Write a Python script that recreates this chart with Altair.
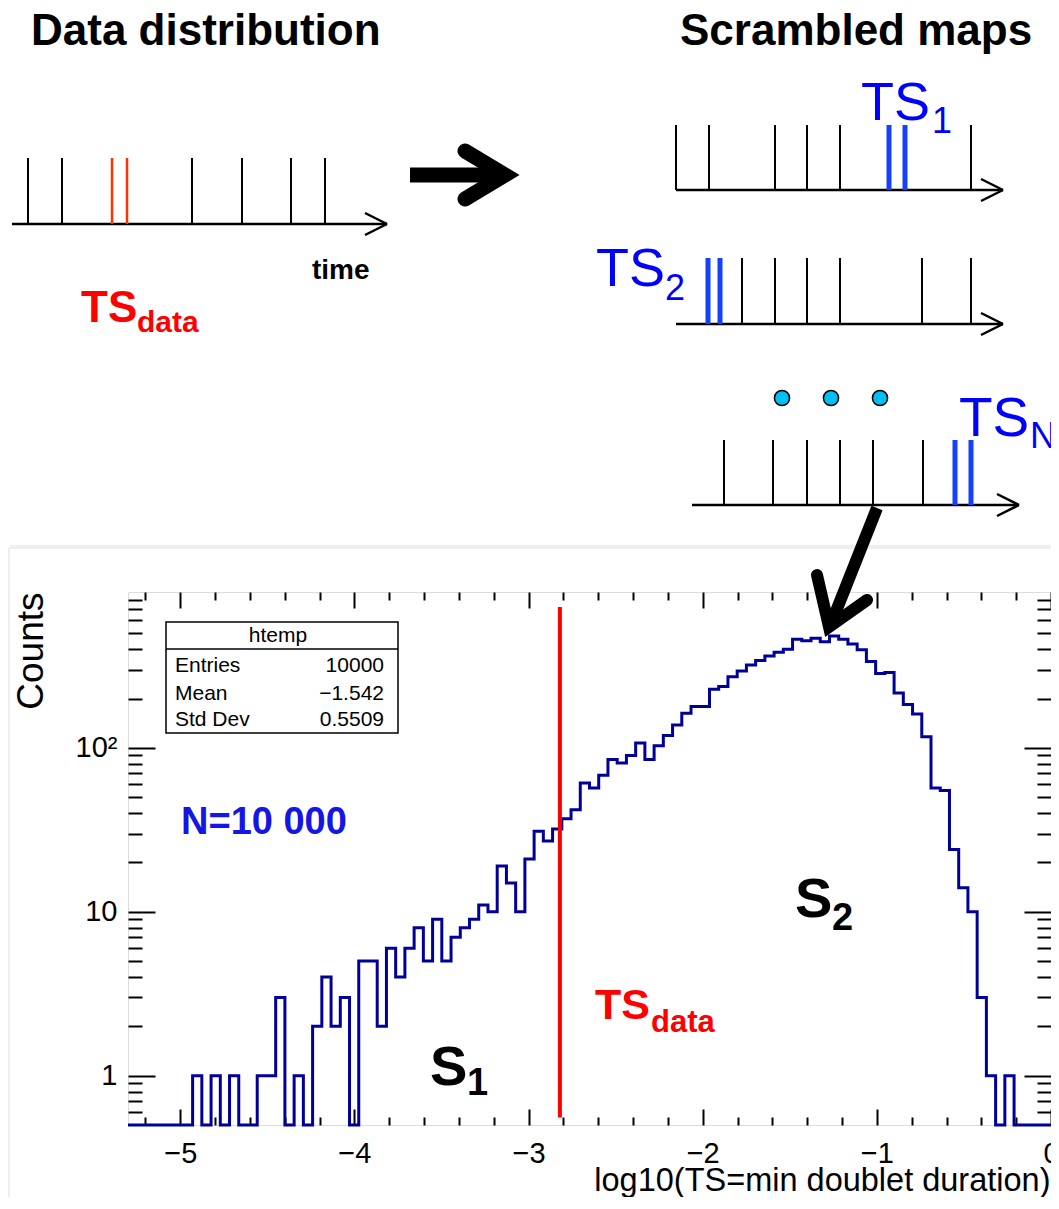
import altair as alt
import pandas as pd

# ------------------------------------------------------------------ histogram data
X_MIN, X_MAX, N_BINS = -5.30, 0.0, 100
COUNTS = [0, 0, 0, 0, 0, 0, 0, 1, 0, 1,
          0, 1, 0, 0, 1, 1, 3, 0, 1, 0,
          2, 4, 2, 3, 0, 5, 5, 2, 6, 4,
          6, 8, 5, 9, 5, 7, 8, 9, 11, 10,
          19, 15, 10, 21, 31, 27, 32, 37, 42, 61,
          57, 68, 85, 81, 90, 107, 85, 103, 119, 138,
          163, 179, 179, 228, 237, 272, 295, 321, 341, 364,
          383, 400, 460, 451, 466, 445, 482, 460, 431, 397,
          337, 284, 288, 216, 184, 161, 117, 57, 55, 24,
          14, 10, 3, 1, 0, 1, 0, 0, 0, 0]
Y_MIN, Y_MAX = 0.5, 894
TS_DATA = -2.82
TS_LINE = [724, 0.556]

X_MAJOR = [-5, -4, -3, -2, -1, 0]
X_MINOR = [-5.2, -4.8, -4.6, -4.4, -4.2, -3.8, -3.6, -3.4, -3.2, -2.8, -2.6, -2.4,
           -2.2, -1.8, -1.6, -1.4, -1.2, -0.8, -0.6, -0.4, -0.2]
Y_MAJOR = [1, 10, 100]
Y_MINOR = [0.6, 0.7, 0.8, 0.9, 2, 3, 4, 5, 6, 7, 8, 9,
           20, 30, 40, 50, 60, 70, 80, 90, 200, 300, 400, 500, 600, 700, 800]

X_TITLE = "log10(TS=min doublet duration)"
Y_TITLE = "Counts"
STATS_TITLE = "htemp"
STATS_NAMES = ["Entries", "Mean", "Std Dev"]
STATS_VALUES = ["10000", "\u22121.542", "0.5509"]

# ------------------------------------------------------------------ schematic data
DATA_EVENTS = [28, 62, 192, 242, 291, 325]
DATA_DOUBLET = [112, 127]
SCR1_EVENTS = [676, 709, 775, 807, 840, 971]
SCR1_DOUBLET = [889, 905]
SCR2_EVENTS = [742, 775, 807, 840, 922, 971]
SCR2_DOUBLET = [708, 720]
SCRN_EVENTS = [724, 773, 807, 840, 873, 923]
SCRN_DOUBLET = [955, 971]
DOTS = [782, 831, 880]

RED = "#ff0000"
TICK_RED = "#ff3300"
BLUE = "#0000ff"
TICK_BLUE = "#1440ff"
NAVY = "#000099"

# ------------------------------------------------------------------ layout
W, H = 923, 533
PAD = {"left": 120, "top": 584, "right": 0, "bottom": 72}
SX = alt.Scale(domain=[0, 1059], range=[-128, 931], zero=False, nice=False)
SY = alt.Scale(domain=[0, 1209], range=[-592, 617], zero=False, nice=False)
XS = alt.Scale(domain=[X_MIN, X_MAX], zero=False, nice=False)
YS = alt.Scale(type="log", domain=[Y_MIN, Y_MAX], nice=False)

# rows: events, doublet, doublet colour, doublet width, line start, line end, baseline, tick top
ROWS = [
    (DATA_EVENTS, DATA_DOUBLET, TICK_RED, 2.5, 12, 387, 224, 158),
    (SCR1_EVENTS, SCR1_DOUBLET, TICK_BLUE, 5, 676, 1003, 190, 125),
    (SCR2_EVENTS, SCR2_DOUBLET, TICK_BLUE, 5, 676, 1003, 324, 258),
    (SCRN_EVENTS, SCRN_DOUBLET, TICK_BLUE, 5, 692, 1019, 505, 440),
]

segs = []
for ev, dbl, dcol, dw, x0, x1, yb, yt in ROWS:
    segs.append(dict(x=x0, y=yb, x2=x1, y2=yb, c="black", w=2.5))
    segs.append(dict(x=x1 - 22, y=yb - 11, x2=x1, y2=yb, c="black", w=2.5))
    segs.append(dict(x=x1 - 22, y=yb + 11, x2=x1, y2=yb, c="black", w=2.5))
    for e in ev:
        segs.append(dict(x=e, y=yt, x2=e, y2=yb, c="black", w=2))
    for e in dbl:
        segs.append(dict(x=e, y=yt, x2=e, y2=yb, c=dcol, w=dw))
# thick arrow shafts
segs.append(dict(x=410, y=175, x2=505, y2=175, c="black", w=15))
segs.append(dict(x=877, y=508, x2=831, y2=624, c="black", w=12))
seg_df = pd.DataFrame(segs)

head1 = pd.DataFrame(dict(x=[465, 505, 465], y=[151, 175, 199], o=[0, 1, 2]))
head2 = pd.DataFrame(dict(x=[817, 829, 867], y=[575, 627, 600], o=[0, 1, 2]))


def sx(f="x"):
    return alt.X(f"{f}:Q", scale=SX, axis=None)


def sy(f="y"):
    return alt.Y(f"{f}:Q", scale=SY, axis=None)


rules = alt.Chart(seg_df).mark_rule(strokeCap="butt").encode(
    x=sx(), y=sy(), x2="x2:Q", y2="y2:Q",
    color=alt.Color("c:N", scale=None), strokeWidth=alt.StrokeWidth("w:Q", scale=None))

arrow1 = alt.Chart(head1).mark_line(color="black", strokeWidth=15, strokeJoin="miter",
                                    strokeCap="round").encode(x=sx(), y=sy(), order="o:Q")
arrow2 = alt.Chart(head2).mark_line(color="black", strokeWidth=12, strokeJoin="miter",
                                    strokeCap="round").encode(x=sx(), y=sy(), order="o:Q")

dots = alt.Chart(pd.DataFrame(dict(x=DOTS, y=[398] * 3))).mark_point(
    shape="circle", filled=True, fill="#00bff3", stroke="black", strokeWidth=1.5,
    size=230, opacity=1).encode(x=sx(), y=sy())

# texts: text, x, baseline y, colour, size
bold_texts = pd.DataFrame([
    ("Data distribution", 31, 45, "black", 44),
    ("Scrambled maps", 680, 45, "black", 44),
    ("time", 312, 279, "black", 28),
    ("TS", 81, 322, RED, 44),
    ("data", 137, 332, RED, 30),
    ("N=10 000", 181, 834, "#1515e6", 38),
    ("S", 430, 1085, "black", 56),
    ("1", 467, 1095, "black", 38),
    ("S", 795, 917, "black", 56),
    ("2", 832, 930, "black", 38),
    ("TS", 595, 1019, RED, 43),
    ("data", 651, 1032, RED, 31),
], columns=["t", "x", "y", "c", "s"])
normal_texts = pd.DataFrame([
    ("TS", 861, 120, BLUE, 54),
    ("1", 932, 133, BLUE, 36),
    ("TS", 596, 286, BLUE, 54),
    ("2", 665, 300, BLUE, 36),
    ("TS", 959, 436, BLUE, 55),
    ("N", 1030, 448, BLUE, 36),
], columns=["t", "x", "y", "c", "s"])


def text_layer(df, weight, align="left", font="Liberation Sans"):
    return alt.Chart(df).mark_text(align=align, baseline="alphabetic", font=font,
                                   fontWeight=weight).encode(
        x=sx(), y=sy(), text="t:N", color=alt.Color("c:N", scale=None),
        size=alt.Size("s:Q", scale=None))


t_bold = text_layer(bold_texts, "bold")
t_norm = text_layer(normal_texts, "normal")

# statistics box (ROOT)
box = alt.Chart(pd.DataFrame(dict(x=[166], x2=[398], y=[622], y2=[733]))).mark_rect(
    fill="white", stroke="black", strokeWidth=1.5).encode(x=sx(), x2="x2:Q", y=sy(), y2="y2:Q")
box_div = alt.Chart(pd.DataFrame(dict(x=[166], x2=[398], y=[649], y2=[649]))).mark_rule(
    color="black", strokeWidth=1.5).encode(x=sx(), x2="x2:Q", y=sy(), y2="y2:Q")
st_title = text_layer(pd.DataFrame(dict(t=[STATS_TITLE], x=[278], y=[642], c=["black"], s=[21])),
                      "normal", align="center")
st_names = text_layer(pd.DataFrame(dict(t=STATS_NAMES, x=[175] * 3, y=[672, 700, 726],
                                        c=["black"] * 3, s=[21] * 3)), "normal")
st_vals = text_layer(pd.DataFrame(dict(t=STATS_VALUES, x=[384] * 3, y=[672, 700, 726],
                                       c=["black"] * 3, s=[21] * 3)), "normal", align="right")

# shadow of the pasted ROOT canvas
shadow = alt.Chart(pd.DataFrame(dict(x=[0, 10], x2=[10, 1059], y=[547, 545], y2=[1209, 549]))).mark_rect(
    fill="#efefef").encode(x=sx(), x2="x2:Q", y=sy(), y2="y2:Q")

# ------------------------------------------------------------------ histogram layers
edges = [X_MIN + i * (X_MAX - X_MIN) / N_BINS for i in range(N_BINS)] + [X_MAX]
levels = [max(c, Y_MIN) for c in COUNTS] + [max(COUNTS[-1], Y_MIN)]
hist_df = pd.DataFrame(dict(x=edges, y=levels))
base = alt.Chart(hist_df)


def tick_axis(orient, values, size):
    return alt.Axis(orient=orient, values=values, labels=False, domain=False, grid=False,
                    ticks=True, tickSize=size, offset=-size, tickColor="black", tickWidth=2,
                    title=None)


x_main = alt.Axis(orient="bottom", values=X_MAJOR, format="d", ticks=False, tickSize=0,
                  domain=False, grid=False, labelFont="Liberation Sans", labelFontSize=29,
                  labelColor="black", labelPadding=14, labelFlush=False, labelOverlap=False,
                  title=X_TITLE, titleFont="Liberation Sans", titleFontSize=32.5,
                  titleFontWeight="normal", titleColor="black", titleAnchor="end",
                  titleAlign="right", titleBaseline="alphabetic", titleX=922, titleY=65)
y_main = alt.Axis(orient="left", values=Y_MAJOR, ticks=False, tickSize=0, domain=False,
                  grid=False, labelFont="Liberation Sans", labelFontSize=29, labelColor="black",
                  labelPadding=11, labelOverlap=False,
                  labelExpr="datum.value == 1 ? '1' : datum.value == 10 ? '10' : '10\u00b2'",
                  title=Y_TITLE, titleFont="Liberation Sans", titleFontSize=37,
                  titleFontWeight="normal", titleColor="black", titleAngle=270,
                  titleAlign="right", titleBaseline="alphabetic", titleX=-86, titleY=0)

h_line = base.mark_line(interpolate="step-after", color=NAVY, strokeWidth=3).encode(
    x=alt.X("x:Q", scale=XS, axis=x_main), y=alt.Y("y:Q", scale=YS, axis=y_main))
h_t1 = base.mark_line(strokeOpacity=0).encode(
    x=alt.X("x:Q", scale=XS, axis=tick_axis("bottom", X_MAJOR, 16)),
    y=alt.Y("y:Q", scale=YS, axis=tick_axis("left", Y_MAJOR, 27)))
h_t2 = base.mark_line(strokeOpacity=0).encode(
    x=alt.X("x:Q", scale=XS, axis=tick_axis("bottom", X_MINOR, 8)),
    y=alt.Y("y:Q", scale=YS, axis=tick_axis("left", Y_MINOR, 14)))
h_t3 = base.mark_line(strokeOpacity=0).encode(
    x=alt.X("x:Q", scale=XS, axis=tick_axis("top", X_MAJOR, 16)),
    y=alt.Y("y:Q", scale=YS, axis=tick_axis("right", Y_MAJOR, 27)))
h_t4 = base.mark_line(strokeOpacity=0).encode(
    x=alt.X("x:Q", scale=XS, axis=tick_axis("top", X_MINOR, 8)),
    y=alt.Y("y:Q", scale=YS, axis=tick_axis("right", Y_MINOR, 14)))
ts_rule = alt.Chart(pd.DataFrame(dict(x=[TS_DATA], y=[TS_LINE[0]], y2=[TS_LINE[1]]))).mark_rule(
    color=RED, strokeWidth=4).encode(x=alt.X("x:Q", scale=XS, axis=None),
                                      y=alt.Y("y:Q", scale=YS, axis=None), y2="y2:Q")

hist = alt.layer(h_line, h_t1, h_t2, h_t3, h_t4, ts_rule).resolve_axis(
    x="independent", y="independent")

bg = alt.layer(shadow)
fg = alt.layer(rules, arrow1, arrow2, dots, t_bold, t_norm, box, box_div, st_title,
               st_names, st_vals)

chart = alt.layer(bg, hist, fg).resolve_scale(x="independent", y="independent").properties(
    width=W, height=H, autosize=alt.AutoSizeParams(type="none"), padding=PAD,
    background="white").configure_view(stroke="black", strokeWidth=2).configure(
    font="Liberation Sans")

chart.save("out.html", embed_options={"renderer": "svg", "actions": False})
